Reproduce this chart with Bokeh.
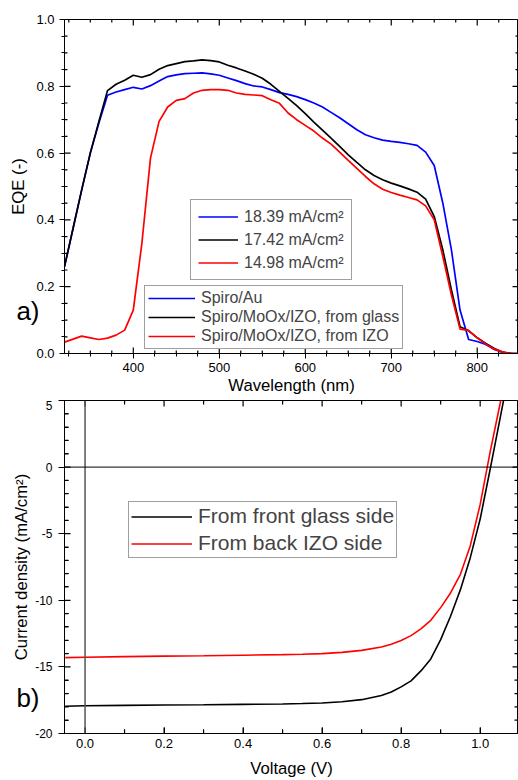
import math
from bokeh.plotting import figure
from bokeh.models import (Range1d, LinearAxis, FixedTicker, Legend, LegendItem,
                          Span, PrintfTickFormatter)
from bokeh.layouts import column
from bokeh.embed import file_html
from bokeh.resources import INLINE

FONT = "Liberation Sans"

# ---------------- data: EQE (panel a) ----------------
wavelength = [320, 330, 340, 350, 360, 370, 380, 390, 400, 410,
              420, 430, 440, 450, 460, 470, 480, 490, 500, 510,
              520, 530, 540, 550, 560, 570, 580, 590, 600, 610,
              620, 630, 640, 650, 660, 670, 680, 690, 700, 710,
              720, 730, 740, 750, 760, 770, 780, 790, 800, 810,
              820, 830, 840, 850]

eqe_spiro_au = [0.26, 0.375, 0.49, 0.60, 0.69, 0.773, 0.783, 0.79, 0.797, 0.792,
                0.802, 0.816, 0.829, 0.834, 0.838, 0.839, 0.840, 0.837, 0.833, 0.825,
                0.817, 0.808, 0.801, 0.798, 0.79, 0.781, 0.776, 0.769, 0.76, 0.75,
                0.738, 0.722, 0.706, 0.688, 0.670, 0.655, 0.646, 0.639, 0.635, 0.632,
                0.628, 0.623, 0.603, 0.563, 0.45, 0.31, 0.13, 0.042, 0.036, 0.027,
                0.012, 0.003, 0.0, 0.0]

eqe_from_glass = [0.26, 0.375, 0.49, 0.60, 0.695, 0.787, 0.806, 0.818, 0.833, 0.827,
                  0.835, 0.851, 0.862, 0.868, 0.874, 0.876, 0.879, 0.877, 0.873, 0.863,
                  0.855, 0.846, 0.836, 0.824, 0.806, 0.785, 0.764, 0.742, 0.718, 0.693,
                  0.669, 0.645, 0.62, 0.595, 0.572, 0.55, 0.533, 0.52, 0.51, 0.502,
                  0.493, 0.483, 0.462, 0.41, 0.31, 0.19, 0.08, 0.068, 0.047, 0.03,
                  0.015, 0.004, 0.0, 0.0]

eqe_from_izo = [0.034, 0.043, 0.052, 0.047, 0.042, 0.046, 0.055, 0.07, 0.13, 0.33,
                0.585, 0.695, 0.738, 0.758, 0.763, 0.780, 0.788, 0.790, 0.790, 0.788,
                0.780, 0.776, 0.774, 0.772, 0.76, 0.749, 0.72, 0.70, 0.683, 0.666,
                0.645, 0.627, 0.603, 0.578, 0.554, 0.530, 0.508, 0.492, 0.482, 0.474,
                0.467, 0.46, 0.442, 0.40, 0.29, 0.175, 0.073, 0.069, 0.047, 0.028,
                0.013, 0.004, 0.0, 0.0]

jsc_labels = ["18.39 mA/cm\u00b2", "17.42 mA/cm\u00b2", "14.98 mA/cm\u00b2"]
device_labels = ["Spiro/Au", "Spiro/MoOx/IZO, from glass", "Spiro/MoOx/IZO, from IZO"]

# ---------------- data: J-V (panel b) ----------------
voltage = [-0.05, 0.0, 0.1, 0.2, 0.3, 0.4, 0.5, 0.55, 0.6, 0.65, 0.7, 0.75,
           0.775, 0.8, 0.825, 0.85, 0.875, 0.9, 0.925, 0.95, 0.975, 1.0,
           1.025, 1.05, 1.075]
j_front_glass = [-17.95, -17.92, -17.89, -17.86, -17.84, -17.81, -17.78, -17.75,
                 -17.71, -17.62, -17.46, -17.15, -16.88, -16.5, -16.05, -15.3,
                 -14.4, -12.95, -11.2, -9.2, -6.8, -3.9, -0.2, 3.6, 7.4]
j_back_izo = [-14.3, -14.27, -14.23, -14.19, -14.16, -14.12, -14.08, -14.05,
              -14.0, -13.91, -13.76, -13.5, -13.3, -13.02, -12.65, -12.15,
              -11.5, -10.55, -9.45, -8.05, -5.9, -2.8, 1.1, 4.7, 8.3]
jv_labels = ["From front glass side", "From back IZO side"]

# tick positions (label values)
eqe_ticks = [0.0, 0.2, 0.4, 0.6, 0.8, 1.0]
wl_ticks = [400, 500, 600, 700, 800]
v_ticks = [0.0, 0.2, 0.4, 0.6, 0.8, 1.0]
j_ticks = [-20, -15, -10, -5, 0, 5]

FW, FH1, FH2 = 454.0, 334.0, 335.0   # frame sizes in px


def minor_between(major, step, lo, hi):
    out = []
    m = major[0]
    while m - step >= lo - 1e-9:
        m -= step
    v = m
    while v <= hi + 1e-9:
        if all(abs(v - t) > 1e-9 for t in major):
            out.append(round(v, 6))
        v += step
    return out


def style_axis(ax, tick_dir="out", font_size="13px", maj_len=5, min_len=3,
               minor_dir=None):
    ax.axis_line_color = "black"
    ax.axis_line_width = 1
    ax.major_tick_line_color = "black"
    ax.minor_tick_line_color = "black"
    if minor_dir is None:
        minor_dir = tick_dir
    if tick_dir == "out":
        ax.major_tick_out = maj_len
        ax.major_tick_in = 0
    else:
        ax.major_tick_out = 0
        ax.major_tick_in = maj_len
    if minor_dir == "out":
        ax.minor_tick_out = min_len
        ax.minor_tick_in = 0
    else:
        ax.minor_tick_out = 0
        ax.minor_tick_in = min_len
    ax.major_label_text_font = FONT
    ax.major_label_text_color = "black"
    ax.major_label_text_font_size = font_size
    ax.axis_label_text_font = FONT
    ax.axis_label_text_font_style = "normal"
    ax.axis_label_text_font_size = "16.7px"
    ax.axis_label_text_color = "black"


def draw_ticks(p, xr, yr, fh, xmaj, xmin, ymaj, ymin, maj_px, min_px):
    # tick marks drawn as short two-point lines on the inside of the frame edges
    dx = (xr.end - xr.start) / FW
    dy = (yr.end - yr.start) / fh
    xs, ys = [], []
    for pos, ln in ((xmaj, maj_px), (xmin, min_px)):
        for t in pos:
            xs.append([t, t]); ys.append([yr.start, yr.start + ln * dy])
            xs.append([t, t]); ys.append([yr.end, yr.end - ln * dy])
    for pos, ln in ((ymaj, maj_px), (ymin, min_px)):
        for t in pos:
            xs.append([xr.start, xr.start + ln * dx]); ys.append([t, t])
            xs.append([xr.end, xr.end - ln * dx]); ys.append([t, t])
    p.multi_line(xs=xs, ys=ys, line_color="black", line_width=1.2)


def panel_axis(p, pos, text, title, label_standoff, title_standoff, bounds):
    # outer left axis carrying the panel letter (as its only tick label)
    # and the y-axis title
    ax = LinearAxis(ticker=FixedTicker(ticks=[pos], minor_ticks=[]),
                    major_label_overrides={pos: text}, axis_label=title,
                    bounds=bounds)
    ax.axis_line_color = None
    ax.major_tick_line_color = None
    ax.minor_tick_line_color = None
    ax.major_tick_in = 0
    ax.major_tick_out = 0
    ax.major_label_standoff = label_standoff
    ax.major_label_text_font = FONT
    ax.major_label_text_font_size = "26px"
    ax.major_label_text_color = "black"
    ax.axis_label_standoff = title_standoff
    ax.axis_label_text_font = FONT
    ax.axis_label_text_font_style = "normal"
    ax.axis_label_text_font_size = "16.7px"
    ax.axis_label_text_color = "black"
    p.add_layout(ax, "left")


# ================= panel a =================
xr1 = Range1d(320, 848)
yr1 = Range1d(0, 1.0)
p1 = figure(width=518, height=400, output_backend="svg", toolbar_location=None,
            x_range=xr1, y_range=yr1,
            min_border_left=64, min_border_right=0, min_border_top=19,
            min_border_bottom=47, x_axis_label="Wavelength (nm)")
p1.grid.visible = False
p1.outline_line_color = "black"
p1.outline_line_width = 1
p1.background_fill_color = "white"
p1.border_fill_color = "white"

wl_minor = minor_between(wl_ticks, 25, 320, 848)
eqe_minor = minor_between(eqe_ticks, 0.05, 0.0, 1.0)
p1.xaxis.ticker = FixedTicker(ticks=wl_ticks, minor_ticks=wl_minor)
p1.yaxis.ticker = FixedTicker(ticks=eqe_ticks, minor_ticks=eqe_minor)
p1.xaxis.formatter = PrintfTickFormatter(format="%d")
p1.yaxis.formatter = PrintfTickFormatter(format="%.1f")
for ax in p1.xaxis:
    style_axis(ax, maj_len=5, min_len=3)
    ax.major_label_standoff = 4
    ax.axis_label_standoff = 1
for ax in p1.yaxis:
    style_axis(ax, maj_len=5, min_len=3)
    ax.major_label_standoff = 5
panel_axis(p1, 0.126, "a)", "EQE (-)", -6, -15, (0.056, 1.0))
draw_ticks(p1, xr1, yr1, FH1, wl_ticks, wl_minor, eqe_ticks, eqe_minor, 6, 3)

r_au = p1.line(wavelength, eqe_spiro_au, line_color="#0000ff", line_width=1.7)
r_glass = p1.line(wavelength, eqe_from_glass, line_color="black", line_width=1.7)
r_izo = p1.line(wavelength, eqe_from_izo, line_color="#ff0000", line_width=1.7)
rs = [r_au, r_glass, r_izo]

leg_jsc = Legend(items=[LegendItem(label=l, renderers=[r]) for l, r in zip(jsc_labels, rs)],
                 location=(126, 73), orientation="vertical", padding=7, spacing=4,
                 margin=0, glyph_width=40, glyph_height=19, label_height=19,
                 label_standoff=6, label_text_font=FONT, label_text_font_size="16px",
                 border_line_color="#404040", border_line_width=1,
                 background_fill_color="white", background_fill_alpha=1)
leg_dev = Legend(items=[LegendItem(label=l, renderers=[r]) for l, r in zip(device_labels, rs)],
                 location=(80, 4), orientation="vertical", padding=3, spacing=1,
                 margin=0, glyph_width=47, glyph_height=18, label_height=18,
                 label_standoff=6, label_text_font=FONT, label_text_font_size="16px",
                 border_line_color="#404040", border_line_width=1,
                 background_fill_color="white", background_fill_alpha=1)
p1.add_layout(leg_jsc)
p1.add_layout(leg_dev)

# ================= panel b =================
xr2 = Range1d(-0.052, 1.097)
yr2 = Range1d(-20, 5)
p2 = figure(width=518, height=380, output_backend="svg", toolbar_location=None,
            x_range=xr2, y_range=yr2,
            min_border_left=64, min_border_right=0, min_border_top=0,
            min_border_bottom=45, x_axis_label="Voltage (V)")
p2.grid.visible = False
p2.outline_line_color = "black"
p2.outline_line_width = 1
p2.background_fill_color = "white"
p2.border_fill_color = "white"

v_minor = minor_between(v_ticks, 0.1, -0.052, 1.097)
j_minor = minor_between(j_ticks, 1, -20, 5)
p2.xaxis.ticker = FixedTicker(ticks=v_ticks, minor_ticks=v_minor)
p2.yaxis.ticker = FixedTicker(ticks=j_ticks, minor_ticks=j_minor)
p2.xaxis.formatter = PrintfTickFormatter(format="%.1f")
p2.yaxis.formatter = PrintfTickFormatter(format="%d")
for ax in p2.xaxis:
    style_axis(ax, tick_dir="in", maj_len=6, min_len=4)
    ax.major_label_standoff = 5
    ax.axis_label_standoff = 8
for ax in p2.yaxis:
    style_axis(ax, font_size="12px", tick_dir="out", minor_dir="in", maj_len=6, min_len=4)
    ax.major_label_standoff = 6
panel_axis(p2, -17.31, "b)", "Current density (mA/cm\u00b2)", -7, -18, (-18.8, 5.0))
draw_ticks(p2, xr2, yr2, FH2, v_ticks, v_minor, j_ticks, j_minor, 6, 4)

p2.add_layout(Span(location=0, dimension="height", line_color="#555555", line_width=1.5))
p2.add_layout(Span(location=0, dimension="width", line_color="black", line_width=1))

r_front = p2.line(voltage, j_front_glass, line_color="black", line_width=1.6)
r_back = p2.line(voltage, j_back_izo, line_color="#ff0000", line_width=1.6)

leg_jv = Legend(items=[LegendItem(label=l, renderers=[r]) for l, r in zip(jv_labels, [r_front, r_back])],
                location=(64, 175), orientation="vertical", padding=2, spacing=3,
                margin=0, glyph_width=61, glyph_height=23, label_height=23,
                label_standoff=6, label_text_font=FONT, label_text_font_size="21px",
                border_line_color="#404040", border_line_width=1,
                background_fill_color="white", background_fill_alpha=1)
p2.add_layout(leg_jv)

layout = column(p1, p2, spacing=0)
open("out.html", "w").write(file_html(layout, INLINE))
